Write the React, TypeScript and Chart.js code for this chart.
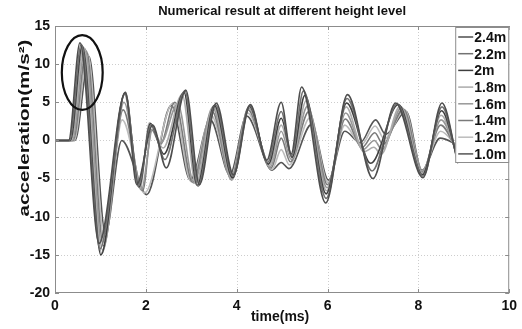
import React, { useEffect, useRef } from 'react';
import { Chart, registerables } from 'chart.js';

Chart.register(...registerables);

const chartTitle = 'Numerical result at different height level';
const xTitle = 'time(ms)';
const yTitle = 'acceleration(m/s\u00B2)';

const seriesLabels = ['2.4m', '2.2m', '2m', '1.8m', '1.6m', '1.4m', '1.2m', '1.0m'];
const seriesColors = ['#4e4e4e', '#727272', '#3e3e3e', '#ababab', '#979797', '#7a7a7a', '#bcbcbc', '#545454'];

const xTickValues = [0, 2, 4, 6, 8, 10];
const yTickValues = [-20, -15, -10, -5, 0, 5, 10, 15];

// time (ms) / acceleration (m/s^2) key points
const t24 = [0, 0.30, 0.55, 0.97, 1.55, 1.80, 2.15, 2.45, 2.88, 3.18, 3.55, 3.93, 4.30, 4.66, 4.98, 5.20, 5.43, 5.96, 6.44, 7.00, 7.50, 8.10, 8.52, 8.87];
const a24 = [0, 0, 12.8, -13.5, 6.3, -5.8, 2.0, -3.6, 6.6, -5.8, 4.9, -4.5, 4.7, -2.6, 5.0, -1.8, 7.0, -8.2, 6.0, -5.0, 4.9, -4.9, 4.9, -3.0];

const t22 = [0, 0.32, 0.58, 0.99, 1.55, 1.83, 2.12, 2.42, 2.86, 3.15, 3.53, 3.92, 4.29, 4.68, 4.98, 5.21, 5.47, 5.97, 6.43, 6.98, 7.53, 8.10, 8.52, 8.87];
const a22 = [0, 0, 12.6, -14.2, 6.3, -6.0, 2.1, -2.5, 6.5, -6.0, 4.7, -4.7, 4.6, -2.9, 3.8, -2.0, 6.5, -7.6, 5.5, -4.0, 4.8, -4.7, 4.4, -2.8];

const t20 = [0, 0.34, 0.60, 1.01, 1.54, 1.85, 2.10, 2.40, 2.84, 3.13, 3.51, 3.91, 4.28, 4.70, 4.98, 5.22, 5.50, 5.97, 6.42, 6.95, 7.56, 8.09, 8.51, 8.87];
const a20 = [0, 0, 12.4, -15.0, 6.2, -6.1, 2.2, -1.8, 6.3, -5.9, 4.6, -4.9, 4.5, -3.1, 2.9, -2.2, 5.9, -7.0, 4.9, -3.0, 4.7, -4.5, 3.9, -2.6];

const t18 = [0, 0.36, 0.63, 1.03, 1.53, 1.87, 2.08, 2.38, 2.80, 3.10, 3.49, 3.90, 4.27, 4.72, 4.98, 5.22, 5.53, 5.98, 6.41, 6.80, 7.02, 7.18, 7.60, 8.09, 8.50, 8.87];
const a18 = [0, 0, 12.2, -14.8, 6.0, -6.3, 2.3, -1.0, 6.0, -5.7, 4.5, -5.1, 4.4, -3.3, 2.0, -2.3, 5.2, -6.6, 4.4, -1.5, -0.9, -1.8, 4.5, -4.3, 3.3, -2.3];

const t16 = [0, 0.38, 0.66, 1.05, 1.52, 1.90, 2.15, 2.33, 2.70, 3.06, 3.47, 3.89, 4.26, 4.74, 4.98, 5.20, 5.56, 5.99, 6.40, 6.78, 7.03, 7.20, 7.63, 8.08, 8.50, 8.87];
const a16 = [0, 0, 12.0, -14.4, 5.0, -6.5, 1.5, -0.3, 4.8, -5.6, 4.3, -5.2, 4.3, -3.5, 1.2, -2.5, 4.5, -6.2, 3.6, -1.2, 0.0, -1.2, 4.3, -4.2, 2.7, -2.0];

const t14 = [0, 0.40, 0.69, 1.07, 1.50, 1.93, 2.13, 2.32, 2.64, 3.03, 3.46, 3.88, 4.25, 4.76, 4.98, 5.18, 5.59, 6.00, 6.39, 6.76, 7.04, 7.22, 7.67, 8.08, 8.49, 8.87];
const a14 = [0, 0, 11.7, -13.8, 4.0, -6.6, 1.4, -0.5, 5.0, -5.5, 3.8, -5.0, 4.0, -3.6, 0.3, -2.8, 3.8, -5.8, 2.8, -0.9, 1.0, -0.5, 4.1, -4.1, 2.0, -1.6];

const t12 = [0, 0.42, 0.72, 1.09, 1.48, 1.97, 2.60, 3.00, 3.44, 3.87, 4.24, 4.78, 4.98, 5.16, 5.62, 6.01, 6.38, 6.74, 7.05, 7.25, 7.70, 8.08, 8.49, 8.87];
const a12 = [0, 0, 11.4, -13.0, 2.7, -6.9, 4.9, -5.4, 3.3, -4.8, 3.6, -3.8, -1.2, -3.2, 3.0, -5.5, 2.0, -0.6, 1.9, 0.2, 4.0, -4.0, 1.2, -1.0];

const t10 = [0, 0.44, 0.75, 1.11, 1.47, 2.02, 2.56, 2.98, 3.42, 3.85, 4.22, 4.78, 4.98, 5.15, 5.65, 6.02, 6.38, 6.72, 7.06, 7.28, 7.73, 8.08, 8.48, 8.87];
const a10 = [0, 0, 11.0, -12.2, 0.0, -7.1, 4.6, -5.2, 2.7, -4.5, 3.2, -3.9, -2.9, -3.7, 2.1, -5.2, 1.2, -0.3, 2.7, 0.8, 3.8, -3.9, 0.3, -0.6];

const seriesTimes = [t24, t22, t20, t18, t16, t14, t12, t10];
const seriesValues = [a24, a22, a20, a18, a16, a14, a12, a10];

// ellipse marking the first peaks (data units)
const markCenterT = 0.6;
const markCenterA = 8.9;
const markRadiusT = 0.45;
const markRadiusA = 4.9;

const FONT = "'Liberation Sans', Arial, Helvetica, sans-serif";

const decorPlugin = {
  id: 'decor',
  beforeDatasetsDraw(chart: any) {
    const { ctx, chartArea: a, scales } = chart;
    const x = scales.x;
    const y = scales.y;
    ctx.save();
    ctx.strokeStyle = '#cdcdcd';
    ctx.lineWidth = 1;
    ctx.setLineDash([1, 2]);
    xTickValues.forEach((v) => {
      if (v === xTickValues[0] || v === xTickValues[xTickValues.length - 1]) return;
      const px = Math.round(x.getPixelForValue(v)) + 0.5;
      ctx.beginPath();
      ctx.moveTo(px, a.top);
      ctx.lineTo(px, a.bottom);
      ctx.stroke();
    });
    yTickValues.forEach((v) => {
      if (v === yTickValues[0] || v === yTickValues[yTickValues.length - 1]) return;
      const py = Math.round(y.getPixelForValue(v)) + 0.5;
      ctx.beginPath();
      ctx.moveTo(a.left, py);
      ctx.lineTo(a.right, py);
      ctx.stroke();
    });
    ctx.restore();
  },
  afterDatasetsDraw(chart: any) {
    const { ctx, chartArea: a, scales } = chart;
    const x = scales.x;
    const y = scales.y;
    ctx.save();

    // ellipse
    const cx = x.getPixelForValue(markCenterT);
    const cy = y.getPixelForValue(markCenterA);
    const rx = x.getPixelForValue(markCenterT + markRadiusT) - cx;
    const ry = cy - y.getPixelForValue(markCenterA + markRadiusA);
    ctx.beginPath();
    ctx.ellipse(cx, cy, rx, ry, 0, 0, Math.PI * 2);
    ctx.strokeStyle = '#111';
    ctx.lineWidth = 2.2;
    ctx.stroke();

    // box + inner ticks
    ctx.strokeStyle = '#8c8c8c';
    ctx.lineWidth = 1;
    ctx.strokeRect(a.left + 0.5, a.top + 0.5, a.right - a.left - 1, a.bottom - a.top - 1);
    ctx.beginPath();
    xTickValues.forEach((v) => {
      const px = Math.round(x.getPixelForValue(v)) + 0.5;
      ctx.moveTo(px, a.bottom);
      ctx.lineTo(px, a.bottom - 4);
      ctx.moveTo(px, a.top);
      ctx.lineTo(px, a.top + 4);
    });
    yTickValues.forEach((v) => {
      const py = Math.round(y.getPixelForValue(v)) + 0.5;
      ctx.moveTo(a.left, py);
      ctx.lineTo(a.left + 4, py);
      ctx.moveTo(a.right, py);
      ctx.lineTo(a.right - 4, py);
    });
    ctx.stroke();

    // legend inside top-right
    const lw = 54;
    const rowH = 16.7;
    const lh = 136;
    const lx = a.right - lw;
    const ly = a.top + 1;
    ctx.fillStyle = '#fff';
    ctx.fillRect(lx, ly, lw, lh);
    ctx.strokeStyle = '#8c8c8c';
    ctx.strokeRect(lx + 0.5, ly + 0.5, lw - 1, lh - 1);
    ctx.font = `bold 14px ${FONT}`;
    ctx.textBaseline = 'middle';
    ctx.textAlign = 'left';
    seriesLabels.forEach((lab, i) => {
      const ry2 = ly + 10 + rowH * i;
      ctx.beginPath();
      ctx.moveTo(lx + 3, ry2);
      ctx.lineTo(lx + 18, ry2);
      ctx.strokeStyle = seriesColors[i];
      ctx.lineWidth = 1.5;
      ctx.stroke();
      ctx.fillStyle = '#111';
      ctx.fillText(lab, lx + 19, ry2 + 1);
    });

    // titles
    ctx.fillStyle = '#111';
    ctx.textAlign = 'center';
    ctx.textBaseline = 'middle';
    ctx.font = `bold 13px ${FONT}`;
    ctx.fillText(chartTitle, (a.left + a.right) / 2, 11);
    ctx.font = `bold 14px ${FONT}`;
    ctx.fillText(xTitle, (a.left + a.right) / 2 - 2, a.bottom + 24);

    ctx.save();
    ctx.translate(25, 128);
    ctx.rotate(-Math.PI / 2);
    ctx.font = `bold 14px ${FONT}`;
    const w = ctx.measureText(yTitle).width;
    ctx.scale(177 / w, 1);
    ctx.fillText(yTitle, 0, 0);
    ctx.restore();

    ctx.restore();
  },
};

export default function App() {
  const ref = useRef<HTMLCanvasElement | null>(null);

  useEffect(() => {
    document.body.style.margin = '0';
    const canvas = ref.current;
    if (!canvas) return;
    const datasets = seriesLabels.map((lab, i) => ({
      label: lab,
      data: seriesTimes[i].map((t, j) => ({ x: t, y: seriesValues[i][j] })),
      borderColor: seriesColors[i],
      backgroundColor: seriesColors[i],
      borderWidth: 1.6,
      pointRadius: 0,
      fill: false,
      cubicInterpolationMode: 'monotone' as const,
    }));
    const tickFont = { family: FONT, size: 14, weight: 'bold' as const };
    const chart = new Chart(canvas, {
      type: 'line',
      data: { datasets },
      options: {
        animation: false,
        responsive: false,
        maintainAspectRatio: false,
        layout: { padding: { top: 26, right: 11, left: 0, bottom: 0 } },
        plugins: { legend: { display: false }, tooltip: { enabled: false }, title: { display: false } },
        scales: {
          x: {
            type: 'linear',
            min: 0,
            max: 10,
            ticks: { stepSize: 2, font: tickFont, color: '#111', padding: 5, maxRotation: 0, autoSkip: false },
            grid: { display: false, drawTicks: false },
            border: { display: false },
            afterFit: (s: any) => { s.height = 36; },
          },
          y: {
            type: 'linear',
            min: -20,
            max: 15,
            ticks: { stepSize: 5, font: tickFont, color: '#111', padding: 5, autoSkip: false },
            grid: { display: false, drawTicks: false },
            border: { display: false },
            afterFit: (s: any) => { s.width = 55; },
          },
        },
      },
      plugins: [decorPlugin],
    });
    return () => chart.destroy();
  }, []);

  return <canvas ref={ref} width={522} height={329} style={{ display: 'block', width: 522, height: 329 }} />;
}
